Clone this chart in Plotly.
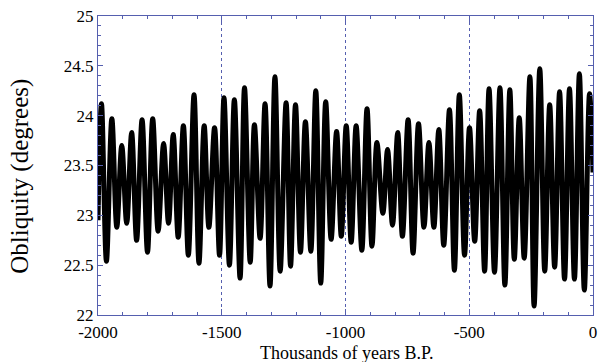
import plotly.graph_objects as go

# Alternating extrema of obliquity (kyr B.P., degrees)
years = [-2000, -1986, -1966, -1944, -1924, -1904, -1884, -1864, -1844, -1822,
         -1800, -1779, -1757, -1735, -1715, -1696, -1676, -1655, -1635, -1612,
         -1592, -1571, -1552, -1529, -1509, -1491, -1469, -1449, -1426, -1408,
         -1385, -1368, -1345, -1325, -1305, -1285, -1264, -1240, -1222, -1202,
         -1182, -1162, -1140, -1120, -1100, -1080, -1058, -1036, -1017, -997,
         -977, -957, -934, -913, -893, -873, -849, -830, -810, -789,
         -770, -747, -727, -705, -683, -663, -643, -623, -603, -580,
         -560, -540, -519, -499, -478, -458, -438, -420, -398, -376,
         -356, -336, -318, -298, -278, -255, -238, -215, -195, -175,
         -155, -135, -115, -95, -75, -55, -35, -14, 0]
obliquity = [22.95, 24.12, 22.54, 23.97, 22.88, 23.70, 22.92, 23.83, 22.75, 23.96,
             22.63, 23.97, 22.84, 23.72, 22.92, 23.81, 22.78, 23.90, 22.60, 24.21,
             22.52, 23.90, 22.88, 23.88, 22.60, 24.18, 22.50, 24.16, 22.37, 24.28,
             22.53, 23.91, 22.77, 24.12, 22.29, 24.39, 22.44, 24.13, 22.49, 24.11,
             22.63, 23.94, 22.64, 24.25, 22.32, 24.14, 22.76, 23.84, 22.79, 23.90,
             22.73, 23.90, 22.65, 24.07, 22.69, 23.73, 23.02, 23.66, 22.90, 23.83,
             22.79, 23.96, 22.62, 23.92, 22.88, 23.73, 22.88, 23.86, 22.70, 24.06,
             22.45, 24.21, 22.60, 23.88, 22.74, 24.05, 22.44, 24.27, 22.43, 24.28,
             22.30, 24.26, 22.56, 23.98, 22.57, 24.39, 22.09, 24.47, 22.44, 24.11,
             22.48, 24.24, 22.36, 24.27, 22.36, 24.42, 22.25, 24.22, 23.43]

x_ticks = [-2000, -1500, -1000, -500, 0]
y_ticks = [22, 22.5, 23, 23.5, 24, 24.5, 25]

axis_color = "rgb(85,95,175)"
serif = "Liberation Serif"

fig = go.Figure()
fig.add_trace(go.Scatter(
    x=years, y=obliquity, mode="lines",
    line=dict(color="black", width=5, shape="spline", smoothing=1.0),
    hoverinfo="skip", showlegend=False,
))

fig.update_layout(
    width=599, height=362,
    margin=dict(l=98, r=2, t=16, b=47),
    paper_bgcolor="white", plot_bgcolor="white",
    font=dict(family=serif, color="black", size=17),
)
fig.update_xaxes(
    range=[-2000, 0], tickvals=x_ticks, ticktext=[str(v) for v in x_ticks],
    showline=True, linecolor=axis_color, linewidth=1, mirror="allticks",
    ticks="inside", ticklen=6, tickcolor=axis_color,
    minor=dict(dtick=100, ticks="inside", ticklen=3, tickcolor=axis_color, showgrid=False),
    showgrid=True, gridcolor=axis_color, griddash="dot", gridwidth=1,
    zeroline=False, ticklabeloverflow="allow", ticklabelstandoff=2,
    tickfont=dict(family=serif, size=17, color="black"),
)
fig.update_yaxes(
    range=[22, 25], tickvals=y_ticks, ticktext=[f"{v:g}" for v in y_ticks],
    showline=True, linecolor=axis_color, linewidth=1, mirror="allticks",
    ticks="inside", ticklen=5, tickcolor=axis_color,
    minor=dict(dtick=0.1, ticks="inside", ticklen=3, tickcolor=axis_color, showgrid=False),
    showgrid=False, zeroline=False, ticklabeloverflow="allow",
    tickfont=dict(family=serif, size=17, color="black"),
)
fig.add_annotation(
    text="Thousands of years B.P.", xref="paper", yref="paper",
    x=0.5035, y=-0.127, xanchor="center", yanchor="middle", showarrow=False,
    font=dict(family=serif, size=18, color="black"),
)
fig.add_annotation(
    text="Obliquity (degrees)", xref="paper", yref="paper",
    x=-0.158, y=0.465, xanchor="center", yanchor="middle", showarrow=False,
    textangle=-90, font=dict(family=serif, size=25, color="black"),
)

fig.write_html("out.html")
